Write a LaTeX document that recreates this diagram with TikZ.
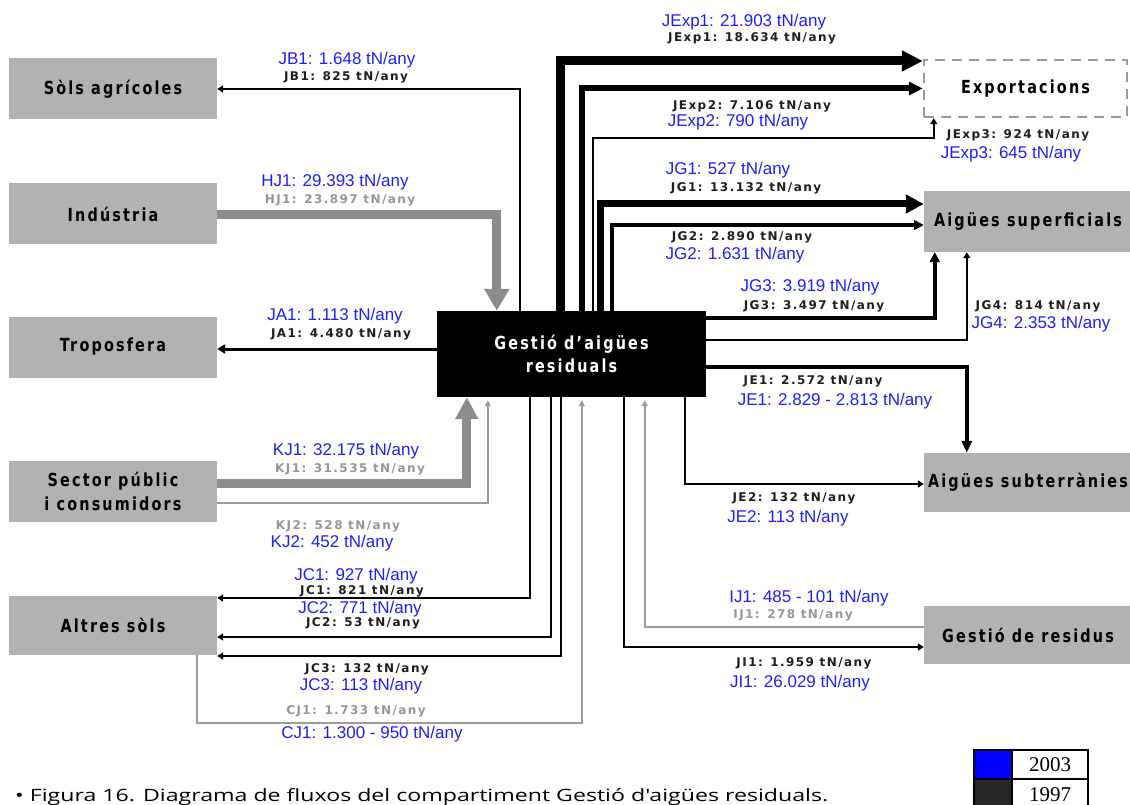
\documentclass[tikz,border=0pt]{standalone}
\usepackage{fontspec}
\usetikzlibrary{arrows.meta,calc}
% fonts
\newfontfamily\boxfont{DejaVu Sans}[FakeStretch=0.8,LetterSpace=12]
\newfontfamily\valfont{DejaVu Sans}[LetterSpace=12]
\newfontfamily\bluefont{Liberation Sans}
\newfontfamily\capfont{Open Sans}
\newfontfamily\legfont{Liberation Serif}
% colours
\definecolor{boxgray}{RGB}{178,178,178}
\definecolor{flowgray}{RGB}{140,140,140}
\definecolor{thingray}{RGB}{155,155,155}
\definecolor{lblgray}{RGB}{150,150,150}
\definecolor{valblue}{RGB}{30,30,255}
\definecolor{valblack}{RGB}{30,30,30}
\definecolor{legdark}{RGB}{38,38,38}
\begin{document}
\begin{tikzpicture}[x=1pt,y=-1pt,
  gbox/.style={fill=boxgray, minimum width=208pt, minimum height=61pt, inner sep=0pt,
    font=\boxfont\bfseries\fontsize{18pt}{24pt}\selectfont, align=center},
  expbox/.style={gbox, fill=white, draw=thingray, line width=2.5pt, dash pattern=on 10pt off 7pt,
    minimum width=203pt, minimum height=57pt},
  centrebox/.style={fill=black, text=white, minimum width=269pt, minimum height=86pt, inner sep=0pt,
    font=\boxfont\bfseries\fontsize{18pt}{23pt}\selectfont, align=center},
  v03/.style={text=valblue, inner sep=0pt, font=\bluefont\fontsize{17pt}{20pt}\selectfont},
  v97/.style={text=valblack, inner sep=0pt, font=\valfont\bfseries\fontsize{12pt}{14pt}\selectfont},
  v97g/.style={v97, text=lblgray},
  flow/.style={draw=black, line width=#1},
  gflow/.style={draw=flowgray, line width=#1},
  lgflow/.style={draw=thingray, line width=1.5pt, -{Triangle[length=6pt,width=6pt]}, shorten >=3pt},
  hd/.style 2 args={-{Triangle[length=#1,width=#2]}},
  legtxt/.style={inner sep=0pt, font=\legfont\fontsize{21pt}{24pt}\selectfont}
]
\useasboundingbox (0,0) rectangle (1130,805);

% compartments
\node[gbox] (sols) at (113,89) {Sòls agrícoles};
\node[gbox] (ind) at (113,214) {Indústria};
\node[gbox] (trop) at (113,347) {Troposfera};
\node[gbox] (sect) at (113,491.5) {Sector públic\\i consumidors};
\node[gbox, minimum height=59pt] (altres) at (113,625.5) {Altres sòls};
\node[centrebox] (gest) at (571.5,354) {Gestió d’aigües\\residuals};
\node[expbox] (exp) at (1025.5,88.5) {Exportacions};
\node[gbox] (sup) at (1028,221.5) {Aigües superficials};
\node[gbox, minimum height=59pt] (sub) at (1028,482.5) {Aigües subterrànies};
\node[gbox, minimum height=58pt] (res) at (1028,635) {Gestió de residus};

% flows leaving through the top of the treatment box
\draw[flow=2pt, hd={6pt}{7pt}] ($(gest.north west)+(83,0)$) |- (sols.east);
\draw[gflow=9pt, hd={22pt}{24pt}] ($(ind.east)+(0,1)$) -| ($(gest.north west)+(60,0)$);
\draw[flow=9pt, hd={21pt}{20pt}] ($(gest.north west)+(124,0)$) |- ($(exp.west)+(0,-27.5)$);
\draw[flow=6pt, hd={14pt}{13pt}] ($(gest.north west)+(145,0)$) |- (exp.west);
\draw[flow=2pt, hd={6pt}{7pt}] ($(gest.north west)+(156,0)$) |- ($(exp.south west)+(11,20)$) -- ($(exp.south west)+(11,0)$);
\draw[flow=7pt, hd={18pt}{18pt}] ($(gest.north west)+(164,0)$) |- ($(sup.west)+(0,-17.5)$);
\draw[flow=4pt, hd={10pt}{10pt}] ($(gest.north west)+(175,0)$) |- ($(sup.west)+(0,3.5)$);

% flows leaving through the right side
\draw[flow=4pt, hd={10pt}{10pt}] ($(gest.north east)+(0,7)$) -| ($(sup.south west)+(11,0)$);
\draw[flow=2pt, hd={6pt}{7pt}] ($(gest.north east)+(0,29)$) -| ($(sup.south west)+(43,0)$);
\draw[flow=3.5pt, hd={12pt}{10pt}] ($(gest.north east)+(0,56)$) -| ($(sub.north west)+(43,0)$);

% left side
\draw[flow=3pt, hd={8pt}{9pt}] ($(gest.west)+(0,-5)$) -- ($(trop.east)+(0,2)$);
\draw[gflow=9pt, hd={22pt}{22pt}] ($(sect.east)+(0,-8.5)$) -| ($(gest.south west)+(30,0)$);
\draw[lgflow] ($(sect.east)+(0,11.5)$) -| ($(gest.south west)+(51,0)$);

% flows leaving through the bottom
\draw[flow=2pt, hd={6pt}{7pt}] ($(gest.south west)+(93,0)$) |- ($(altres.east)+(0,-27.5)$);
\draw[flow=2pt, hd={6pt}{7pt}] ($(gest.south west)+(114,0)$) |- ($(altres.east)+(0,11.5)$);
\draw[flow=2pt, hd={6pt}{7pt}] ($(gest.south west)+(124,0)$) |- ($(altres.east)+(0,30.5)$);
\draw[lgflow] ($(altres.south west)+(188,0)$) -- ++(0,68) -| ($(gest.south west)+(145,0)$);
\draw[flow=2pt, hd={6pt}{7pt}] ($(gest.south west)+(187,0)$) |- ($(res.west)+(0,12)$);
\draw[lgflow] ($(res.west)+(0,-8)$) -| ($(gest.south west)+(208,0)$);
\draw[flow=2pt, hd={6pt}{7pt}] ($(gest.south west)+(248,0)$) |- ($(sub.west)+(0,1.5)$);

% flow values
\node[v03] (jb1a) at (347,60) {JB1: 1.648 tN/any};
\node[v97] (jb1b) at (346,77) {JB1: 825 tN/any};
\node[v03] (hj1a) at (335,182) {HJ1: 29.393 tN/any};
\node[v97g] (hj1b) at (340,200) {HJ1: 23.897 tN/any};
\node[v03] (ja1a) at (335,316) {JA1: 1.113 tN/any};
\node[v97] (ja1b) at (341,334) {JA1: 4.480 tN/any};
\node[v03] (kj1a) at (346,451) {KJ1: 32.175 tN/any};
\node[v97g] (kj1b) at (350,469) {KJ1: 31.535 tN/any};
\node[v97g] (kj2b) at (338,526) {KJ2: 528 tN/any};
\node[v03] (kj2a) at (332,543) {KJ2: 452 tN/any};
\node[v03] (jc1a) at (356,576) {JC1: 927 tN/any};
\node[v97] (jc1b) at (362,591) {JC1: 821 tN/any};
\node[v03] (jc2a) at (360,609) {JC2: 771 tN/any};
\node[v97] (jc2b) at (363,623) {JC2: 53 tN/any};
\node[v97] (jc3b) at (367,669) {JC3: 132 tN/any};
\node[v03] (jc3a) at (361,686) {JC3: 113 tN/any};
\node[v97g] (cj1b) at (356,711) {CJ1: 1.733 tN/any};
\node[v03] (cj1a) at (372,734) {CJ1: 1.300 - 950 tN/any};

\node[v03] (je1a) at (744,22) {JExp1: 21.903 tN/any};
\node[v97] (je1b) at (752,38) {JExp1: 18.634 tN/any};
\node[v97] (je2b) at (752,106) {JExp2: 7.106 tN/any};
\node[v03] (je2a) at (738,122) {JExp2: 790 tN/any};
\node[v97] (je3b) at (1018,135) {JExp3: 924 tN/any};
\node[v03] (je3a) at (1011,154) {JExp3: 645 tN/any};
\node[v03] (jg1a) at (728,170) {JG1: 527 tN/any};
\node[v97] (jg1b) at (746,188) {JG1: 13.132 tN/any};
\node[v97] (jg2b) at (742,237) {JG2: 2.890 tN/any};
\node[v03] (jg2a) at (735,255) {JG2: 1.631 tN/any};
\node[v03] (jg3a) at (810,287) {JG3: 3.919 tN/any};
\node[v97] (jg3b) at (814,306) {JG3: 3.497 tN/any};
\node[v97] (jg4b) at (1038,306) {JG4: 814 tN/any};
\node[v03] (jg4a) at (1041,324) {JG4: 2.353 tN/any};
\node[v97] (jee1b) at (813,381) {JE1: 2.572 tN/any};
\node[v03] (jee1a) at (835,401) {JE1: 2.829 - 2.813 tN/any};
\node[v97] (jee2b) at (794,498) {JE2: 132 tN/any};
\node[v03] (jee2a) at (788,518) {JE2: 113 tN/any};
\node[v03] (ij1a) at (809,598) {IJ1: 485 - 101 tN/any};
\node[v97g] (ij1b) at (793,615) {IJ1: 278 tN/any};
\node[v97] (ji1b) at (804,663) {JI1: 1.959 tN/any};
\node[v03] (ji1a) at (800,683) {JI1: 26.029 tN/any};

% caption
\node[anchor=base west, inner sep=0pt, font=\capfont\fontsize{17pt}{20pt}\selectfont] (cap) at (15,801)
  {\resizebox{813pt}{\height}{• Figura 16. Diagrama de fluxos del compartiment Gestió d'aigües residuals.}};

% year key
\fill[blue] (974,750) rectangle (1012,779);
\fill[legdark] (974,779) rectangle (1012,809);
\draw[line width=2.7pt] (974,750) rectangle (1088,809);
\draw[line width=2.7pt] (1012,750) -- (1012,809);
\draw[line width=2.7pt] (974,779) -- (1088,779);
\node[legtxt] (y03) at (1050,764.5) {2003};
\node[legtxt] (y97) at (1050,794.5) {1997};
\end{tikzpicture}
\end{document}
